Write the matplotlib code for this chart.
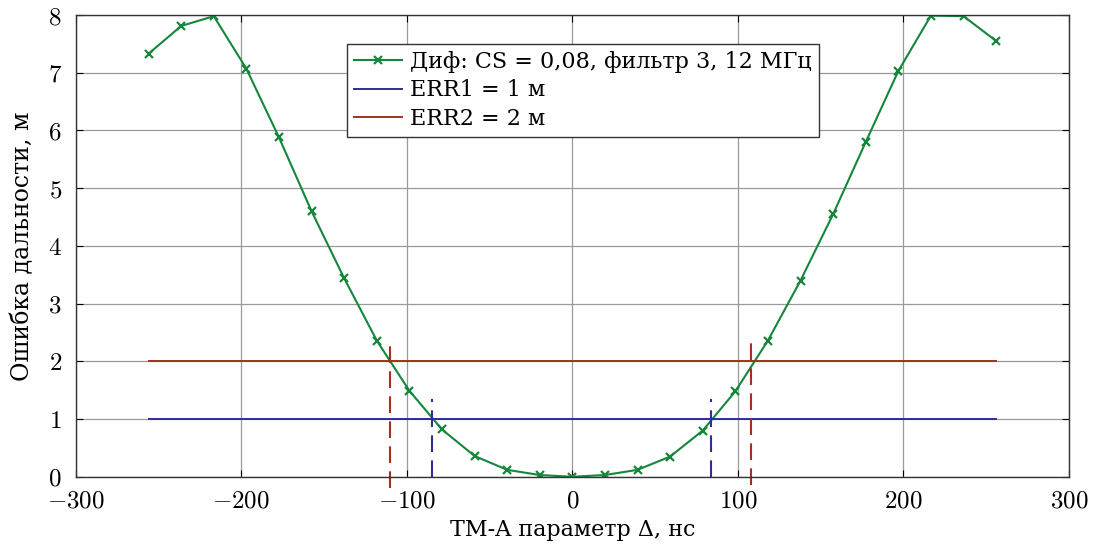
import numpy as np
import matplotlib.pyplot as plt
from matplotlib.ticker import FuncFormatter

plt.rcParams['font.family'] = ['DejaVu Serif']
plt.rcParams['mathtext.fontset'] = 'cm'

# данные
delta = np.linspace(-256, 256, 27)
err = np.array([7.33, 7.81, 7.98, 7.07, 5.88, 4.60, 3.44, 2.36, 1.49, 0.82, 0.36, 0.12, 0.03, 0.0,
                0.03, 0.12, 0.35, 0.80, 1.48, 2.36, 3.40, 4.55, 5.80, 7.03, 7.99, 7.98, 7.55])
err1 = 1
err2 = 2
x_err1 = [-85, 84]      # пересечения с ERR1
x_err2 = [-110, 108]    # пересечения с ERR2

green = '#14873c'
blue = '#2e2e96'
red = '#a0321e'

fig = plt.figure(figsize=(10.93, 5.48), dpi=100)
ax = fig.add_axes([0.0693, 0.130, 0.9087, 0.8426])

ax.plot(delta, err, color=green, lw=1.5, marker='x', ms=6, mew=1.6,
        label='Диф: CS = 0,08, фильтр 3, 12 МГц')
ax.plot([delta[0], delta[-1]], [err1, err1], color=blue, lw=1.4, label='ERR1 = 1 м')
ax.plot([delta[0], delta[-1]], [err2, err2], color=red, lw=1.4, label='ERR2 = 2 м')

# вертикальные пунктирные линии
for x in x_err1:
    ax.plot([x, x], [0, 1.35], color=blue, lw=1.5, ls=(0, (8, 4)), clip_on=False)
ax.plot([x_err2[0]] * 2, [-0.2, 2.37], color=red, lw=1.5, ls=(0, (8, 4)), clip_on=False)
ax.plot([x_err2[1]] * 2, [-0.15, 2.42], color=red, lw=1.5, ls=(0, (8, 4)), clip_on=False)

ax.set_xlim(-300, 300)
ax.set_ylim(0, 8)
ax.set_xticks(np.arange(-300, 301, 100))
ax.set_yticks(np.arange(0, 9, 1))
fmt = FuncFormatter(lambda v, p: '$%d$' % round(v))
ax.xaxis.set_major_formatter(fmt)
ax.yaxis.set_major_formatter(fmt)
ax.grid(True, color='#9a9a9a', lw=0.9)
ax.tick_params(direction='in', top=True, right=True, labelsize=18, length=5)
ax.tick_params(axis='x', pad=9)
ax.tick_params(axis='y', pad=10)
for s in ax.spines.values():
    s.set_linewidth(1.0)
    s.set_color('#333333')

ax.set_xlabel('TM-A параметр Δ, нс', fontsize=16, labelpad=5)
ax.set_ylabel('Ошибка дальности, м', fontsize=17, labelpad=10)

leg = ax.legend(loc='upper left', bbox_to_anchor=(0.273, 0.937), fontsize=16,
                frameon=True, fancybox=False, edgecolor='#333333', framealpha=1,
                borderpad=0.3, labelspacing=0.3, handlelength=2.2, handletextpad=0.35,
                borderaxespad=0)
leg.get_frame().set_linewidth(1.0)

fig.savefig('out.png', dpi=100)
